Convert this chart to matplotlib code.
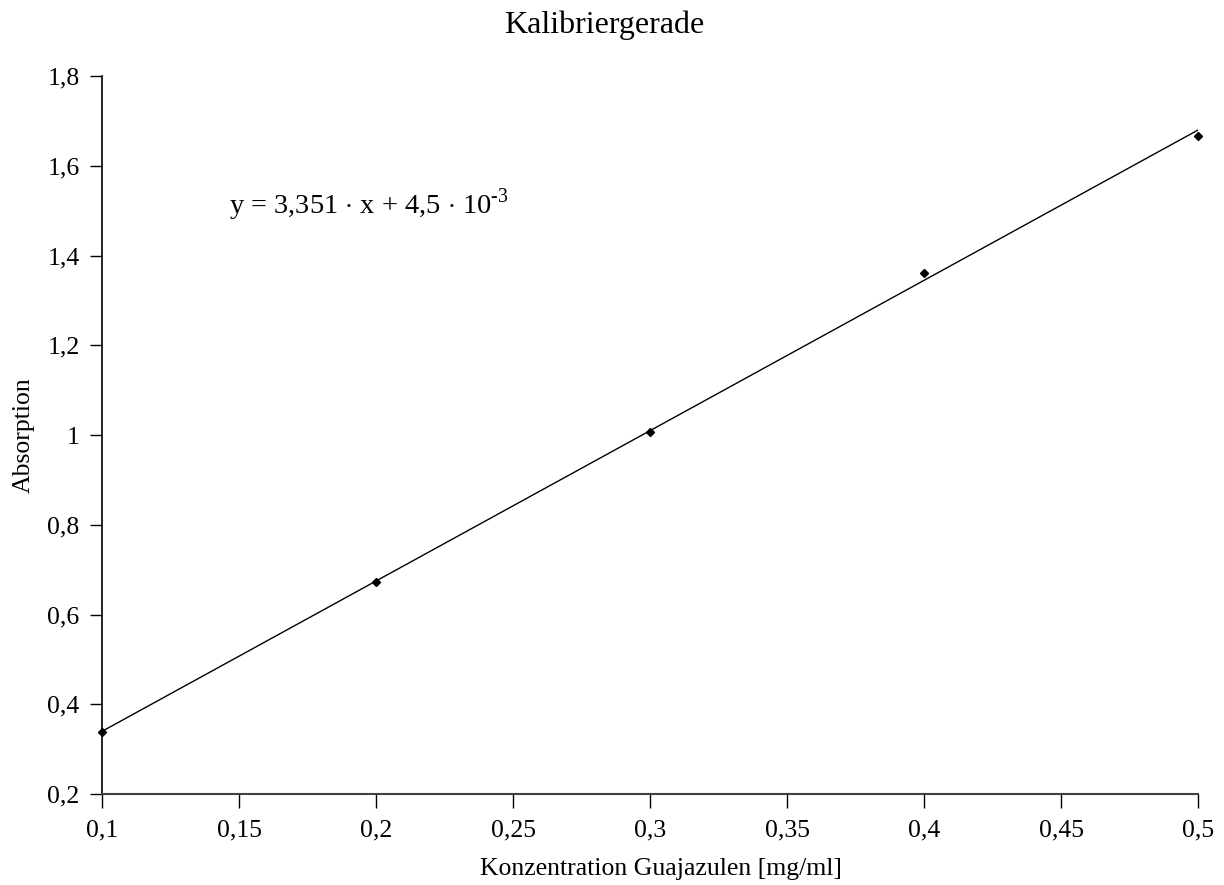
import matplotlib
matplotlib.use("Agg")
import matplotlib.pyplot as plt
import numpy as np
from matplotlib.ticker import FuncFormatter

# DATEN
konzentration = [0.1, 0.2, 0.3, 0.4, 0.5]
absorption = [0.338, 0.672, 1.007, 1.361, 1.666]
steigung = 3.351
achsenabschnitt = 4.5e-3

plt.rcParams['font.family'] = ['Liberation Serif', 'DejaVu Serif']
plt.rcParams['mathtext.fontset'] = 'custom'
plt.rcParams['mathtext.rm'] = 'Liberation Serif'

fig = plt.figure(figsize=(12.24, 8.85), dpi=100)
ax = fig.add_axes([0.0833, 0.1028, 0.8957, 0.8113])

# TRENDLINIE + MESSPUNKTE
x_fit = np.array([konzentration[0], konzentration[-1]])
ax.plot(x_fit, steigung * x_fit + achsenabschnitt, color='black', linewidth=1.0)
ax.plot(konzentration, absorption, linestyle='none', marker='D', markersize=4.5,
        color='black', clip_on=False, zorder=3)

ax.set_xlim(0.1, 0.5)
ax.set_ylim(0.2, 1.8)
ax.set_xticks(np.arange(0.1, 0.501, 0.05))
ax.set_yticks(np.arange(0.2, 1.801, 0.2))

def komma(v, pos):
    s = f"{v:.2f}".rstrip('0').rstrip('.')
    return s.replace('.', ',')

ax.xaxis.set_major_formatter(FuncFormatter(komma))
ax.yaxis.set_major_formatter(FuncFormatter(komma))

for s in ['top', 'right']:
    ax.spines[s].set_visible(False)
ax.spines['left'].set_linewidth(1.2)
ax.spines['bottom'].set_linewidth(1.5)
ax.spines['bottom'].set_color('#404040')
ax.tick_params(direction='out', width=1, labelsize=18.5)
ax.tick_params(axis='x', length=10, pad=8)
ax.tick_params(axis='y', length=9, pad=7)

# BESCHRIFTUNGEN
fig.text(661 / 1224, 1 - 875 / 885, "Konzentration Guajazulen [mg/ml]", fontsize=18.5,
         ha='center', va='baseline')
fig.text(24 / 1224, 1 - 435 / 885, "Absorption", fontsize=18.5, rotation=90,
         ha='center', va='center')
fig.text(604 / 1224, 1 - 33 / 885, "Kalibriergerade", fontsize=23,
         ha='center', va='baseline')

ax.text(0.1465, 1.513, r"y = 3,351 $\cdot$ x + 4,5 $\cdot$ 10$^{\text{-3}}$", fontsize=20.5,
        va='center', ha='left')

fig.savefig("out.png", dpi=100)
